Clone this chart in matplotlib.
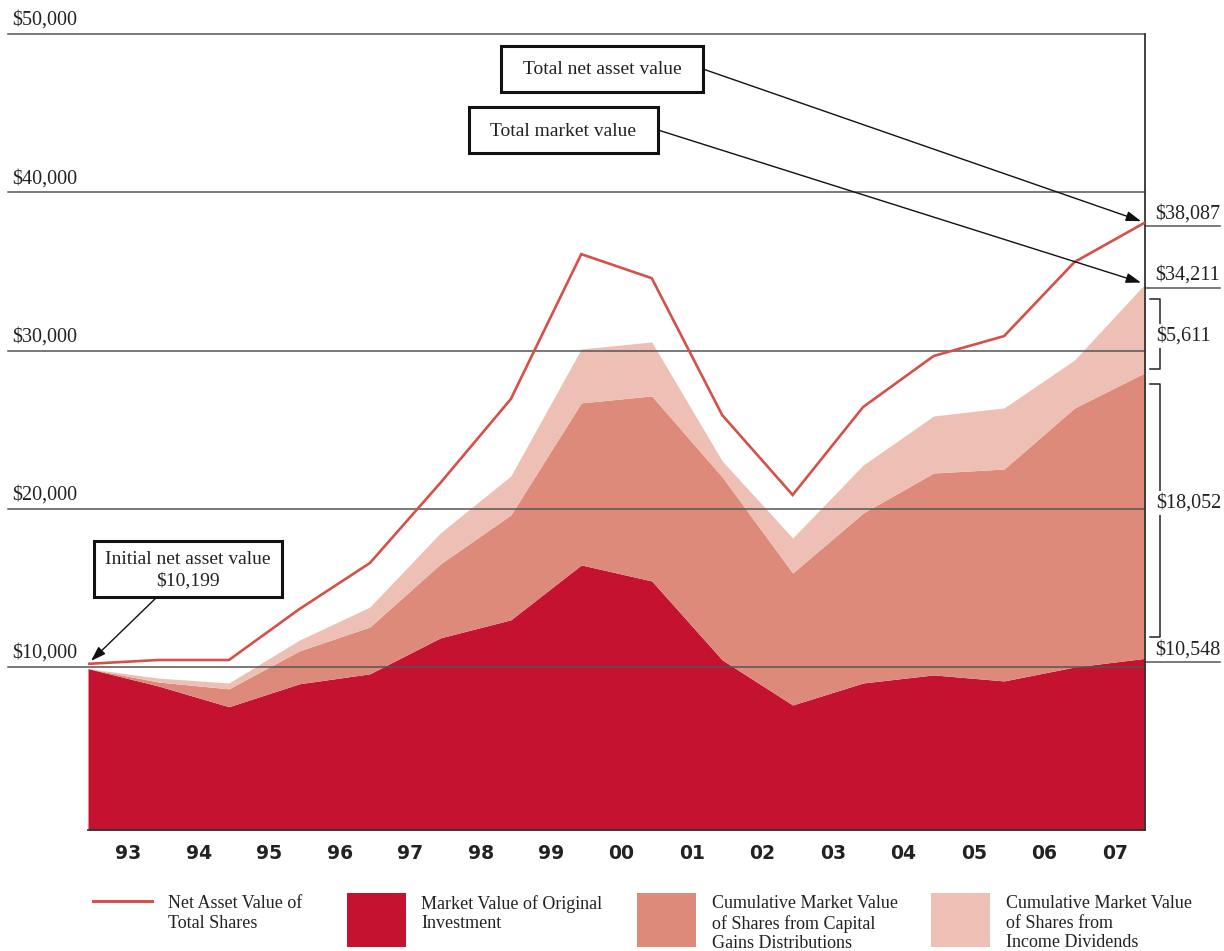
import numpy as np
import matplotlib
matplotlib.use("Agg")
import matplotlib.pyplot as plt
import matplotlib.transforms as mtransforms
from matplotlib.patches import Rectangle
from matplotlib.lines import Line2D

# ---------------- data ----------------
years = ["93", "94", "95", "96", "97", "98", "99", "00", "01", "02", "03", "04", "05", "06", "07"]
nav_total = [10199, 10442, 10442, 13660, 16570, 21630, 26930, 36090, 34570, 25920,
             20870, 26430, 29650, 30910, 35590, 38087]
original_investment = [9900, 8800, 7490, 8940, 9570, 11840, 12980, 16450, 15440, 10450,
                       7600, 8990, 9500, 9120, 10000, 10548]
capital_gains = [0, 250, 1130, 2080, 2960, 4670, 6630, 10240, 11690, 11560,
                 8340, 10740, 12760, 13390, 16370, 18052]
income_dividends = [0, 250, 370, 680, 1260, 1960, 2460, 3410, 3410, 1010,
                    2210, 3030, 3600, 3860, 3030, 5611]
grid_values = [10000, 20000, 30000, 40000, 50000]

# ---------------- style ----------------
W, H = 1224, 951
DARK = "#c41230"
MED = "#de8a7b"
LIGHT = "#eec0b5"
NAVC = "#d6504a"
GRID = "#555555"
SERIF = "Liberation Serif"

def fx(px):
    return px / W

def fy(py):
    return 1 - py / H

fig = plt.figure(figsize=(W / 100, H / 100), dpi=100)
ax = fig.add_axes([fx(88), fy(830), (1145 - 88) / W, (830 - 34) / H])

x = np.arange(len(nav_total))
orig = np.array(original_investment, dtype=float)
cap_top = orig + np.array(capital_gains)
inc_top = cap_top + np.array(income_dividends)
ybottom = -300

ax.set_xlim(0, len(years))
ax.set_ylim(ybottom, 50000)

ax.fill_between(x, ybottom, orig, color=DARK, lw=0, zorder=1)
ax.fill_between(x, orig, cap_top, color=MED, lw=0, zorder=1)
ax.fill_between(x, cap_top, inc_top, color=LIGHT, lw=0, zorder=1)

# grid lines extending to the left labels
xunit = (1145 - 88) / len(years)
x_left = -(88 - 8) / xunit
for gv in grid_values:
    ax.plot([x_left, len(years)], [gv, gv], color=GRID, lw=1.1, zorder=2, clip_on=False)
    ax.annotate(f"${gv:,}", xy=(x_left, gv), xycoords="data",
                xytext=(3, 3), textcoords="offset points",
                ha="left", va="bottom", fontsize=14.5, family=SERIF, color="#222222",
                annotation_clip=False)

ax.plot(x, nav_total, color=NAVC, lw=1.9, zorder=3, solid_joinstyle="miter")

# spines / ticks
for s in ["left", "top"]:
    ax.spines[s].set_visible(False)
for s in ["right", "bottom"]:
    ax.spines[s].set_color("#333333")
    ax.spines[s].set_linewidth(1.3)
ax.set_yticks([])
ax.set_xticks(x[:-1] + 0.5)
ax.set_xticklabels(years, fontsize=13.5, fontweight="bold", color="#222222", family="DejaVu Sans")
ax.tick_params(axis="x", length=0, pad=10)
shift = mtransforms.ScaledTranslation(5 / 100, 0, fig.dpi_scale_trans)
for lab in ax.get_xticklabels():
    lab.set_transform(lab.get_transform() + shift)

# right-side value labels with underlines
x_right_end = len(years) + (1220 - 1145) / xunit
for val in [nav_total[-1], inc_top[-1], original_investment[-1]]:
    ax.plot([len(years), x_right_end], [val - 250, val - 250], color=GRID, lw=1.1,
            clip_on=False, zorder=2)
    ax.annotate(f"${int(round(val)):,}", xy=(len(years), val - 250), xycoords="data",
                xytext=(7, 2), textcoords="offset points", ha="left", va="bottom",
                fontsize=14.5, family=SERIF, color="#222222", annotation_clip=False)

# brackets (figure pixel furniture)
def bracket(top, bottom, label, label_y):
    xv, xt = 1160, 1150
    fig.add_artist(Line2D([fx(xt), fx(xv), fx(xv), fx(xt)],
                          [fy(top), fy(top), fy(bottom), fy(bottom)],
                          color="#222222", lw=1.1))
    fig.text(fx(1156), fy(label_y), label, ha="left", va="center", fontsize=14.5,
             family=SERIF, color="#222222",
             bbox=dict(facecolor="white", edgecolor="none", pad=1.5))

bracket(299, 369, f"${income_dividends[-1]:,}", 336)
bracket(384, 637, f"${capital_gains[-1]:,}", 503)

# annotation boxes
def box(x0, y0, x1, y1, text):
    fig.add_artist(Rectangle((fx(x0), fy(y1)), (x1 - x0) / W, (y1 - y0) / H,
                             transform=fig.transFigure, facecolor="white",
                             edgecolor="#111111", lw=2.2, zorder=5))
    fig.text(fx((x0 + x1) / 2), fy((y0 + y1) / 2 + 1), text, ha="center", va="center",
             fontsize=14, family=SERIF, color="#222222", zorder=6, linespacing=1.3)

arrowprops = dict(arrowstyle="-|>,head_length=0.9,head_width=0.3", color="#111111",
                  lw=1.0, shrinkA=0, shrinkB=3)

box(501, 46, 703, 92, "Total net asset value")
ax.annotate("", xy=(len(years), nav_total[-1]), xycoords="data",
            xytext=(fx(703), fy(69)), textcoords="figure fraction",
            arrowprops=arrowprops, annotation_clip=False, zorder=4)

box(469, 107, 658, 153, "Total market value")
ax.annotate("", xy=(len(years), inc_top[-1]), xycoords="data",
            xytext=(fx(658), fy(130)), textcoords="figure fraction",
            arrowprops=arrowprops, annotation_clip=False, zorder=4)

box(94, 541, 282, 597, f"Initial net asset value\n${nav_total[0]:,}")
ax.annotate("", xy=(0, nav_total[0]), xycoords="data",
            xytext=(fx(157), fy(597)), textcoords="figure fraction",
            arrowprops=arrowprops, annotation_clip=False, zorder=4)

# legend
fig.add_artist(Line2D([fx(93), fx(152)], [fy(901), fy(901)], color=NAVC, lw=2.2))
legend_items = [
    (168, "Net Asset Value of\nTotal Shares"),
    (421, "Market Value of Original\nInvestment"),
    (712, "Cumulative Market Value\nof Shares from Capital\nGains Distributions"),
    (1006, "Cumulative Market Value\nof Shares from\nIncome Dividends"),
]
for (sx, col) in [(347, DARK), (637, MED), (931, LIGHT)]:
    fig.add_artist(Rectangle((fx(sx), fy(947)), 59 / W, 54 / H, transform=fig.transFigure,
                             facecolor=col, edgecolor="none"))
for tx, txt in legend_items:
    fig.text(fx(tx), fy(895), txt, ha="left", va="top", fontsize=13, family=SERIF,
             color="#222222", linespacing=1.2)

fig.savefig("out.png", dpi=100)
